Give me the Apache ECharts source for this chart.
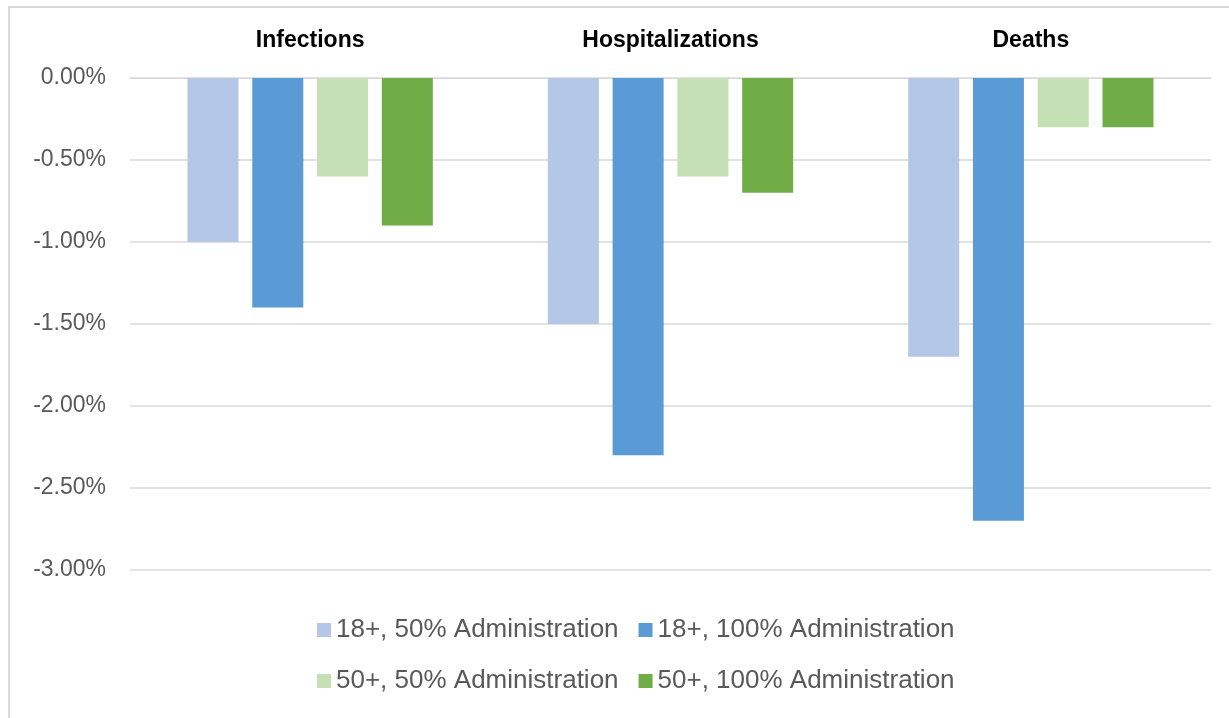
<!DOCTYPE html>
<html>
<head>
<meta charset="utf-8">
<script src="https://cdn.jsdelivr.net/npm/echarts@6/dist/echarts.min.js"></script>
<style>
  html, body { margin: 0; padding: 0; background: #fff; }
  #frame {
    position: absolute; left: 8px; top: 6px; right: 0; bottom: 0;
    border-top: 2px solid #d9d9d9; border-left: 2px solid #d9d9d9;
  }
  #content { position: absolute; left: 0; top: 0; width: 1229px; height: 718px; }
</style>
</head>
<body>
<div id="frame"></div>
<div id="content"></div>
<script>
// categories and series
let categories = ["Infections", "Hospitalizations", "Deaths"];
let seriesNames = [
  "18+, 50% Administration",
  "18+, 100% Administration",
  "50+, 50% Administration",
  "50+, 100% Administration",
];
let adult50 = [-1.0, -1.5, -1.7];
let adult100 = [-1.4, -2.3, -2.7];
let senior50 = [-0.6, -0.6, -0.3];
let senior100 = [-0.9, -0.7, -0.3];
let colors = ["#B4C7E7", "#5B9BD5", "#C5E0B4", "#70AD47"];

let font = "'Liberation Sans', Arial, sans-serif";

let myChart = echarts.init(document.getElementById("content"));

let makeBar = (name, data, color) => ({
  name: name,
  type: "bar",
  data: data,
  barWidth: 51,
  barGap: "27%",
  itemStyle: { color: color },
  animation: false,
});

let legendStyle = {
  itemWidth: 14,
  itemHeight: 14,
  itemGap: 20,
  icon: "rect",
  textStyle: { fontFamily: font, fontSize: 26, color: "#595959" },
};

myChart.setOption({
  animation: false,
  grid: { left: 130, right: 18, top: 78, bottom: 148 },
  legend: [
    Object.assign({ data: seriesNames.slice(0, 2), left: 312, top: 612 }, legendStyle),
    Object.assign({ data: seriesNames.slice(2, 4), left: 312, top: 663 }, legendStyle),
  ],
  xAxis: {
    type: "category",
    position: "top",
    data: categories,
    axisLine: { lineStyle: { color: "#d9d9d9" } },
    axisTick: { show: false },
    axisLabel: {
      margin: 26,
      fontFamily: font,
      fontSize: 23,
      fontWeight: "bold",
      color: "#000",
    },
  },
  yAxis: {
    type: "value",
    min: -3,
    max: 0,
    interval: 0.5,
    axisLine: { show: false },
    axisTick: { show: false },
    splitLine: { lineStyle: { color: "#d9d9d9", width: 1.5 } },
    axisLabel: {
      margin: 24,
      fontFamily: font,
      fontSize: 23,
      color: "#595959",
      formatter: (v) => v.toFixed(2) + "%",
    },
  },
  series: [
    makeBar(seriesNames[0], adult50, colors[0]),
    makeBar(seriesNames[1], adult100, colors[1]),
    makeBar(seriesNames[2], senior50, colors[2]),
    makeBar(seriesNames[3], senior100, colors[3]),
  ],
});
</script>
</body>
</html>
